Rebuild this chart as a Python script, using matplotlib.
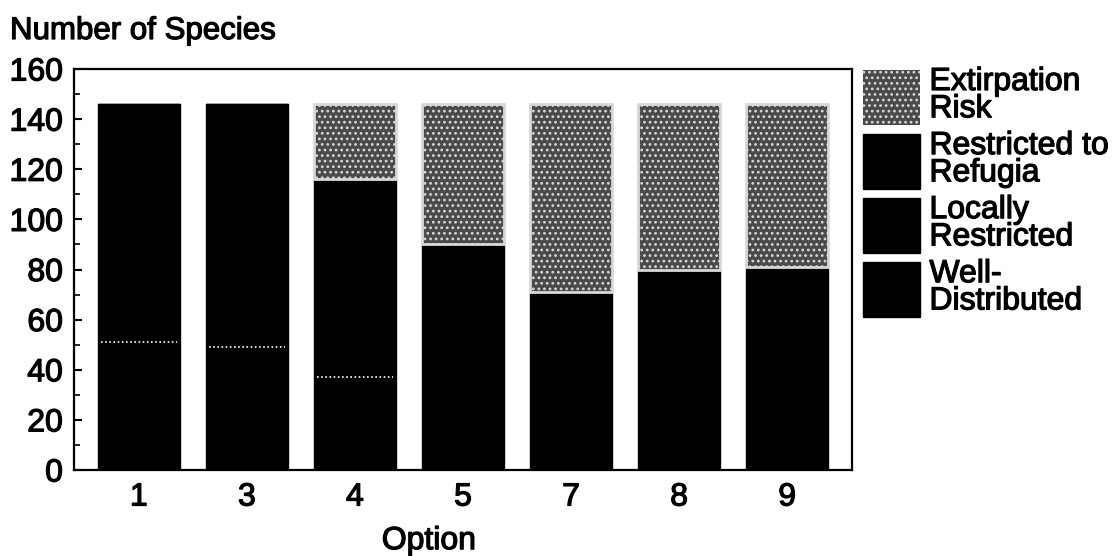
import matplotlib
matplotlib.use("Agg")
import matplotlib.pyplot as plt
import matplotlib.patheffects as pe
import numpy as np

options = ['1', '3', '4', '5', '7', '8', '9']
well_distributed = [51, 49, 37, 90, 71, 80, 81]
locally_restricted = [95, 97, 79, 0, 0, 0, 0]
restricted_refugia = [0, 0, 0, 0, 0, 0, 0]
extirpation_risk = [0, 0, 30, 56, 75, 66, 65]
series_labels = ['Well-\nDistributed', 'Locally\nRestricted',
                 'Restricted to\nRefugia', 'Extirpation\nRisk']
y_ticks = [0, 20, 40, 60, 80, 100, 120, 140, 160]

plt.rcParams['font.family'] = ['Liberation Sans', 'DejaVu Sans']
plt.rcParams['hatch.linewidth'] = 1.2
heavy = [pe.withStroke(linewidth=0.9, foreground='black')]
FS = 23

fig = plt.figure(figsize=(11.2, 5.56), dpi=100)
ax = fig.add_axes([74 / 1120, 1 - 470 / 556, 778 / 1120, 401 / 556])

x = np.arange(len(options))
w = 0.76
wd = np.array(well_distributed)
lr = np.array(locally_restricted)
rr = np.array(restricted_refugia)
er = np.array(extirpation_risk)

h_wd = ax.bar(x, wd, w, color='black', edgecolor='black', linewidth=1,
              label=series_labels[0], zorder=2)
h_lr = ax.bar(x, lr, w, bottom=wd, color='black', edgecolor='black',
              linewidth=1, label=series_labels[1], zorder=2)
h_rr = ax.bar(x, rr, w, bottom=wd + lr, color='black', edgecolor='black',
              linewidth=1, label=series_labels[2], zorder=2)
# dotted boundary between well-distributed and the next segment
ax.hlines(wd, x - w / 2 + 0.03, x + w / 2 - 0.03, colors='white',
          linestyles=(0, (1, 1.5)), linewidth=1.2, zorder=3)
h_er = ax.bar(x, er, w, bottom=wd + lr + rr, color='#4a4a4a',
              edgecolor='#d8d8d8', hatch='...',
              linewidth=np.where(er > 0, 2.0, 0.0),
              label=series_labels[3], zorder=4)

ax.set_xlim(-0.6, len(options) - 1 + 0.6)
ax.set_ylim(0, 160)
ax.set_yticks(y_ticks)
ax.set_yticks(np.arange(10, 160, 20), minor=True)
ax.set_xticks(x)
ax.set_xticklabels(options)
ax.tick_params(axis='y', which='major', direction='in', length=6, width=1.5,
               labelsize=FS, pad=8)
ax.tick_params(axis='y', which='minor', direction='in', length=4, width=1.2)
ax.tick_params(axis='x', length=0, labelsize=FS, pad=9)
for s in ax.spines.values():
    s.set_linewidth(1.6)
for t in ax.get_xticklabels() + ax.get_yticklabels():
    t.set_path_effects(heavy)

xl = ax.set_xlabel('Option', fontsize=FS, path_effects=heavy)
ax.xaxis.set_label_coords((429 - 74) / 778, -0.14)
fig.text(10 / 1120, 1 - 31 / 556, 'Number of Species', fontsize=FS - 0.5,
         ha='left', va='center', path_effects=heavy)

leg = ax.legend(handles=[h_er, h_rr, h_lr, h_wd], labels=series_labels[::-1],
                loc='upper left', bbox_to_anchor=((863 - 74) / 778, 1.005),
                frameon=False, fontsize=FS, borderpad=0, borderaxespad=0,
                handlelength=1.78, handleheight=2.27, handletextpad=0.3,
                labelspacing=0.2)
for t in leg.get_texts():
    t.set_linespacing(0.88)
    t.set_path_effects(heavy)

fig.savefig('out.png', dpi=100)
